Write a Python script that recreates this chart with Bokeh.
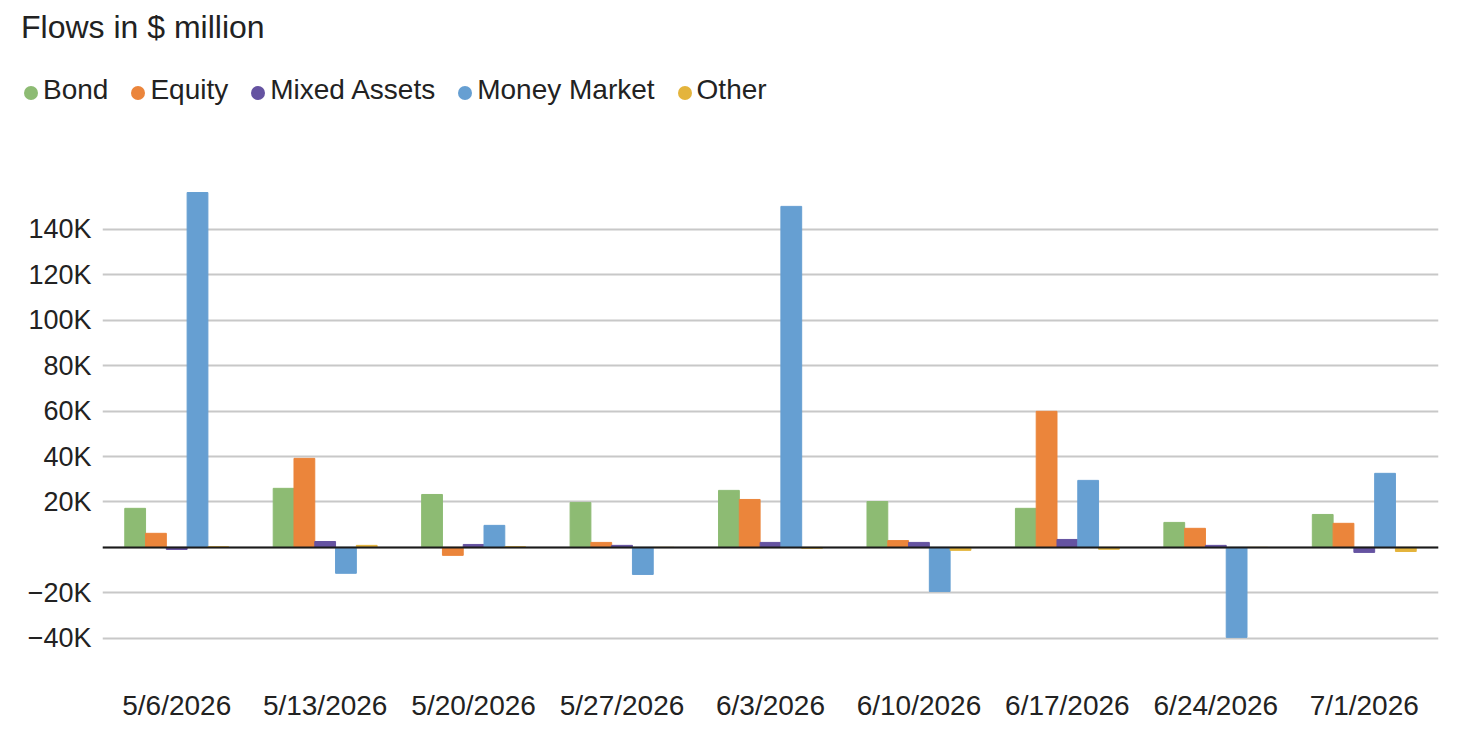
from bokeh.embed import file_html
from bokeh.layouts import column
from bokeh.models import ColumnDataSource, Div, FixedTicker, Range1d, Span
from bokeh.plotting import figure
from bokeh.resources import INLINE
from bokeh.transform import dodge

# weekly flows, shown in K
dates = ['5/6/2026', '5/13/2026', '5/20/2026', '5/27/2026', '6/3/2026',
         '6/10/2026', '6/17/2026', '6/24/2026', '7/1/2026']
bond = [17.2, 26.0, 23.3, 19.8, 25.1, 20.2, 17.2, 11.0, 14.5]
equity = [6.2, 39.2, -3.5, 2.2, 21.1, 3.0, 59.9, 8.4, 10.6]
mixed_assets = [-0.9, 2.6, 1.3, 0.9, 2.2, 2.2, 3.5, 0.9, -2.2]
money_market = [156.2, -11.4, 9.7, -11.9, 150.1, -19.4, 29.5, -39.6, 32.6]
other = [0.3, 0.9, 0.3, 0.0, -0.4, -1.3, -0.8, 0.0, -1.8]

series = ['Bond', 'Equity', 'Mixed Assets', 'Money Market', 'Other']
colors = ['#8dbb73', '#eb853b', '#6553a1', '#669fd2', '#e4b43c']

y_ticks = [-40, -20, 0, 20, 40, 60, 80, 100, 120, 140]
y_tick_labels = ['\u221240K', '\u221220K', '', '20K', '40K', '60K', '80K',
                 '100K', '120K', '140K']

FONT = 'Liberation Sans'
TEXT = '#222222'
HEAD_H = 120

source = ColumnDataSource(data={
    'dates': dates,
    'Bond': bond,
    'Equity': equity,
    'Mixed Assets': mixed_assets,
    'Money Market': money_market,
    'Other': other,
})

# header (title + legend) as html, so it can sit left of the plot frame
legend_html = ''
for name, color in zip(series, colors):
    legend_html += (
        '<span style="display:inline-block;margin-right:23px">'
        '<span style="display:inline-block;width:14px;height:14px;'
        'border-radius:50%;background:{};margin-right:5px;'
        'vertical-align:-1px"></span>{}</span>'.format(color, name))

head = Div(width=1474, height=HEAD_H, margin=0, text=(
    '<div style="position:relative;width:1474px;height:{h}px;'
    'font-family:\'{f}\';color:{c}">'
    '<div style="position:absolute;left:21px;top:8px;font-size:32px;'
    'line-height:38px;white-space:nowrap">Flows in $ million</div>'
    '<div style="position:absolute;left:24px;top:73px;font-size:28px;'
    'line-height:34px;white-space:nowrap">{legend}</div>'
    '</div>').format(h=HEAD_H, f=FONT, c=TEXT, legend=legend_html))

# main chart
p = figure(x_range=dates, width=1474, height=750 - HEAD_H, output_backend='svg',
           toolbar_location=None, title=None, min_border_left=102,
           min_border_right=36, min_border_top=0, min_border_bottom=67)
p.y_range = Range1d(-59.9, 187.9)
p.outline_line_color = None

width = 0.14
for i, (name, color) in enumerate(zip(series, colors)):
    p.vbar(x=dodge('dates', (i - 2) * width, range=p.x_range), top=name,
           bottom=0, width=width, source=source, color=color)

p.add_layout(Span(location=0, dimension='width', line_color='#1a1a1a',
                  line_width=2))

p.xgrid.grid_line_color = None
p.ygrid.ticker = FixedTicker(ticks=y_ticks)
p.ygrid.grid_line_color = '#c8c8c8'
p.ygrid.grid_line_width = 2

p.yaxis.ticker = FixedTicker(ticks=y_ticks)
p.yaxis.major_label_overrides = dict(zip(y_ticks, y_tick_labels))
p.xaxis.axis_line_color = None
p.yaxis.axis_line_color = None
for ax in (p.xaxis, p.yaxis):
    ax.major_tick_line_color = None
    ax.minor_tick_line_color = None
    ax.major_label_text_font = FONT
    ax.major_label_text_color = TEXT
p.xaxis.major_label_text_font_size = '28px'
p.yaxis.major_label_text_font_size = '27px'
p.yaxis.major_label_standoff = 5
p.xaxis.major_label_standoff = 0

open('out.html', 'w').write(file_html(column(head, p, spacing=0), INLINE))
